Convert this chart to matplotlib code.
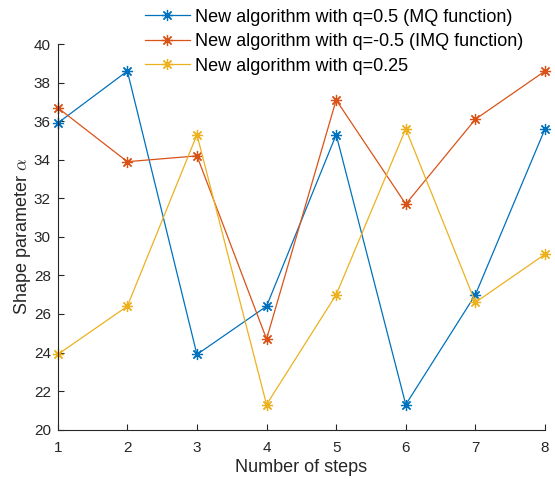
import matplotlib
matplotlib.use("Agg")
import matplotlib.pyplot as plt

plt.rcParams['font.family'] = ['Liberation Sans', 'DejaVu Sans']
plt.rcParams['mathtext.fontset'] = 'cm'

# data
steps = [1, 2, 3, 4, 5, 6, 7, 8]
alpha_mq = [35.9, 38.6, 23.9, 26.4, 35.3, 21.3, 27.0, 35.6]
alpha_imq = [36.7, 33.9, 34.2, 24.7, 37.1, 31.7, 36.1, 38.6]
alpha_q025 = [23.9, 26.4, 35.3, 21.3, 27.0, 35.6, 26.6, 29.1]
labels = ["New algorithm with q=0.5 (MQ function)",
          "New algorithm with q=-0.5 (IMQ function)",
          "New algorithm with q=0.25"]
colors = ['#0072BD', '#D95319', '#EDB120']

fig = plt.figure(figsize=(5.55, 4.79), dpi=100)
ax = fig.add_axes([0.104, 0.103, 0.878, 0.805])

# MATLAB-style asterisk marker (8 arms)
star = (8, 2, 0)
for y, c, lab in zip([alpha_mq, alpha_imq, alpha_q025], colors, labels):
    ax.plot(steps, y, color=c, lw=0.9, marker=star, ms=8, mew=0.9,
            clip_on=False, label=lab)

ax.set_xlim(1, 8)
ax.set_ylim(20, 40)
ax.set_xticks(steps)
ax.set_yticks(range(20, 41, 2))
ax.spines['top'].set_visible(False)
ax.spines['right'].set_visible(False)
for s in ['left', 'bottom']:
    ax.spines[s].set_color('#262626')
    ax.spines[s].set_linewidth(0.8)
ax.tick_params(direction='in', length=4, width=0.8, colors='#262626',
               labelsize=11, labelcolor='#262626', pad=5)
ax.tick_params(axis='x', pad=8)
ax.set_xlabel("Number of steps", fontsize=13, color='#262626', labelpad=3)
ax.set_ylabel(r"Shape parameter $\alpha$", fontsize=13, color='#262626', labelpad=0.5)

h, l = ax.get_legend_handles_labels()
fig.legend(h, l, loc='upper left', bbox_to_anchor=(0.261, 0.982),
           frameon=False, fontsize=13, handlelength=2.5, handletextpad=0.25,
           labelspacing=0.42, borderaxespad=0, borderpad=0, numpoints=1)

fig.savefig("out.png", dpi=100)
